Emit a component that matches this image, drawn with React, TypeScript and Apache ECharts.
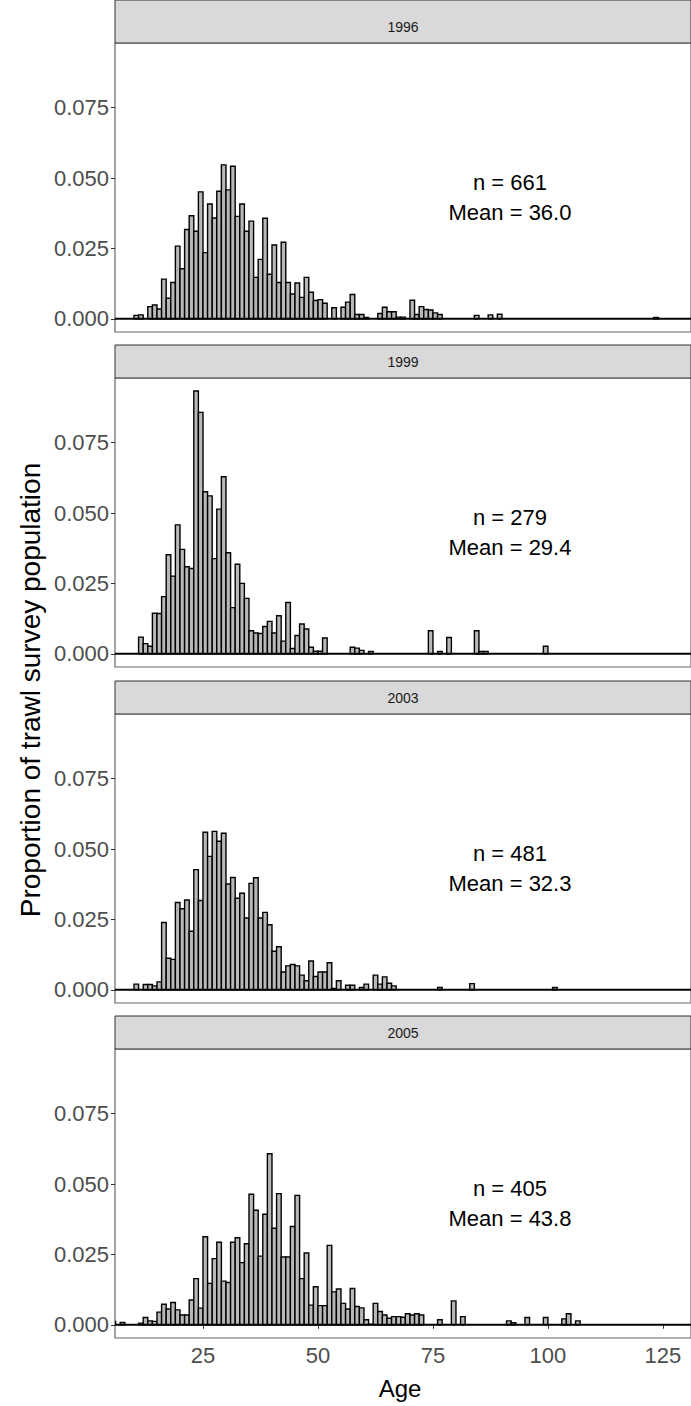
import React, { useEffect, useRef } from "react";
import * as echarts from "echarts";

const years = ["1996", "1999", "2003", "2005"];
const nValues = [661, 279, 481, 405];
const meanValues = ["36.0", "29.4", "32.3", "43.8"];
const yTicks = [0, 0.025, 0.05, 0.075];
const xTicks = [25, 50, 75, 100, 125];

const start1996 = 10;
const body1996 = [.0012, .0014, 0, .0043, .0049, .0035, .0141, .0073, .0129, .0258, .0178, .0317, .0366, .0311, .0451, .0235, .0408, .0358, .0453, .0547, .0458, .0542, .0364, .0408, .0311, .0347, .0147, .0211, .0357, .0158, .0262, .0129, .0272, .0129, .0088, .0127, .0076, .0147, .0094, .0065, .0068, .0055, 0, .0039, 0, .0041, .0059, .0086, .0015, .0015, .0005, 0, 0, .0019, .0041, .0025, .0025, .0006, .0006, 0, .0066, .0015, .0043, .0033, .0031, .0021, .0015];
const tailAges1996 = [84, 87, 89, 123];
const tailVals1996 = [.0012, .0014, .0016, .0005];

const start1999 = 11;
const body1999 = [.0059, .0036, .0027, .0144, .0143, .0203, .0352, .0276, .0458, .0371, .0309, .0303, .0934, .0858, .0576, .0561, .0338, .0514, .0629, .0359, .0164, .0318, .025, .0197, .0082, .0074, .0072, .0097, .0115, .0074, .0135, .0045, .0182, .0019, .0065, .0106, .0088, .0023, .0009, .0009];
const tailAges1999 = [51, 57, 58, 59, 61, 74, 76, 78, 84, 85, 86, 99];
const tailVals1999 = [.0056, .0023, .002, .0012, .0008, .0082, .0008, .0058, .0082, .0008, .0008, .0027];

const start2003 = 10;
const body2003 = [.002, 0, .0019, .0019, .0014, .0028, .0239, .0112, .0108, .031, .0288, .0319, .0208, .0427, .0317, .056, .0474, .0563, .0528, .0556, .0376, .0399, .0325, .0343, .0255, .0378, .0398, .0255, .0275, .0231, .0137, .0153, .0063, .0085, .009, .0085, .0052, .0032, .0102, .0047, .0063, .0063, .0096, .0005, .0032, 0, .0016, .0016];
const tailAges2003 = [59, 60, 62, 63, 64, 65, 66, 76, 83, 101];
const tailVals2003 = [.0008, .002, .0052, .002, .0046, .0023, .0014, .0008, .0022, .0008];

const start2005 = 5;
const body2005 = [.0012, 0, .0008, 0, 0, 0, .0006, .0026, .0014, .0012, .0045, .0073, .0056, .0079, .0053, .0035, .0035, .0088, .0164, .0059, .0313, .0147, .0235, .0293, .0155, .015, .0293, .0309, .0221, .0288, .0464, .0407, .0244, .0393, .0608, .0343, .0466, .0241, .0241, .0349, .046, .0164, .0255, .007, .0135, .0068, .0068, .0282, .0117, .0127, .0076, .0056, .0129, .0065, .006, .0018, .0002, .0076, .0047, .0035, .0023, .0029, .0029, .0027, .0039, .0035, .0039, .0035];
const tailAges2005 = [76, 79, 81, 91, 92, 95, 99, 103, 104, 106];
const tailVals2005 = [.0018, .0085, .0029, .0014, .0007, .0026, .0026, .0021, .0039, .0014];

const starts = [start1996, start1999, start2003, start2005];
const bodies = [body1996, body1999, body2003, body2005];
const tailAges = [tailAges1996, tailAges1999, tailAges2003, tailAges2005];
const tailVals = [tailVals1996, tailVals1999, tailVals2003, tailVals2005];

const X_MIN = 5.87;
const X_MAX = 131.1;
const Y_MIN = -0.0047;
const Y_MAX = 0.098;
const panelTops = [43, 378, 714, 1049];
const stripTops = [0, 345, 681, 1016];
const PANEL_H = 289;
const LEFT = 115;

function panelData(i: number): number[][] {
  const d: number[][] = [];
  bodies[i].forEach((v, k) => { if (v > 0) d.push([starts[i] + k, v]); });
  tailAges[i].forEach((a, k) => d.push([a, tailVals[i][k]]));
  return d;
}

export default function App() {
  const ref = useRef<HTMLDivElement>(null);
  useEffect(() => {
    const chart = echarts.init(ref.current!, null, { renderer: "svg" });
    const font = "Liberation Sans, Arial, sans-serif";
    const grids: any[] = [], xAxes: any[] = [], yAxes: any[] = [], series: any[] = [], graphics: any[] = [];
    years.forEach((yr, i) => {
      grids.push({ left: LEFT, top: panelTops[i], width: 691 - LEFT, height: PANEL_H, show: true, borderColor: "#666", borderWidth: 1.2, backgroundColor: "#fff" });
      xAxes.push({
        type: "value", gridIndex: i, min: X_MIN, max: X_MAX,
        axisLine: { show: false }, splitLine: { show: false },
        axisTick: { show: i === 3, length: 4, lineStyle: { color: "#333" }, customValues: xTicks },
        axisLabel: { show: i === 3, fontSize: 22, color: "#4d4d4d", fontFamily: font, customValues: xTicks, margin: 6 },
      });
      yAxes.push({
        type: "value", gridIndex: i, min: Y_MIN, max: Y_MAX,
        axisLine: { show: false }, splitLine: { show: false },
        axisTick: { show: true, length: 4, lineStyle: { color: "#333" }, customValues: yTicks },
        axisLabel: { fontSize: 22, color: "#4d4d4d", fontFamily: font, customValues: yTicks, margin: 6, formatter: (v: number) => v.toFixed(3) },
      });
      series.push({
        type: "custom", xAxisIndex: i, yAxisIndex: i, clip: true,
        data: panelData(i),
        renderItem: (params: any, api: any) => {
          const a = api.value(0), v = api.value(1);
          const p0 = api.coord([a, v]);
          const p1 = api.coord([a + 1, 0]);
          return { type: "rect", shape: { x: p0[0], y: p0[1], width: p1[0] - p0[0], height: p1[1] - p0[1] }, style: { fill: "#b8b8b8", stroke: "#000", lineWidth: 1.4 } };
        },
      });
      series.push({
        type: "line", xAxisIndex: i, yAxisIndex: i, data: [[X_MIN, 0], [X_MAX, 0]],
        symbol: "none", lineStyle: { color: "#000", width: 2 }, silent: true,
      });
      const sh = i === 0 ? 43 : 33;
      graphics.push({ type: "rect", shape: { x: LEFT, y: stripTops[i], width: 691 - LEFT, height: sh }, style: { fill: "#d9d9d9", stroke: "#333", lineWidth: 1 } });
      graphics.push({ type: "text", x: (LEFT + 691) / 2, y: stripTops[i] + sh - 16, style: { text: yr, fontSize: 14, fill: "#1a1a1a", fontFamily: font, align: "center", verticalAlign: "middle" } });
      graphics.push({ type: "text", x: 510, y: panelTops[i] + 139, style: { text: "n = " + nValues[i], fontSize: 22, fill: "#000", fontFamily: font, align: "center", verticalAlign: "middle" } });
      graphics.push({ type: "text", x: 510, y: panelTops[i] + 169, style: { text: "Mean = " + meanValues[i], fontSize: 22, fill: "#000", fontFamily: font, align: "center", verticalAlign: "middle" } });
    });
    graphics.push({ type: "text", x: 400, y: 1388, style: { text: "Age", fontSize: 24, fill: "#000", fontFamily: font, align: "center", verticalAlign: "middle" } });
    graphics.push({ type: "text", x: 30, y: 690, rotation: Math.PI / 2, style: { text: "Proportion of trawl survey population", fontSize: 28, fill: "#000", fontFamily: font, align: "center", verticalAlign: "middle" } });
    chart.setOption({ animation: false, grid: grids, xAxis: xAxes, yAxis: yAxes, series, graphic: graphics });
    return () => chart.dispose();
  }, []);
  return <div ref={ref} style={{ position: "absolute", left: 0, top: 0, width: 691, height: 1406, background: "#fff" }} />;
}
